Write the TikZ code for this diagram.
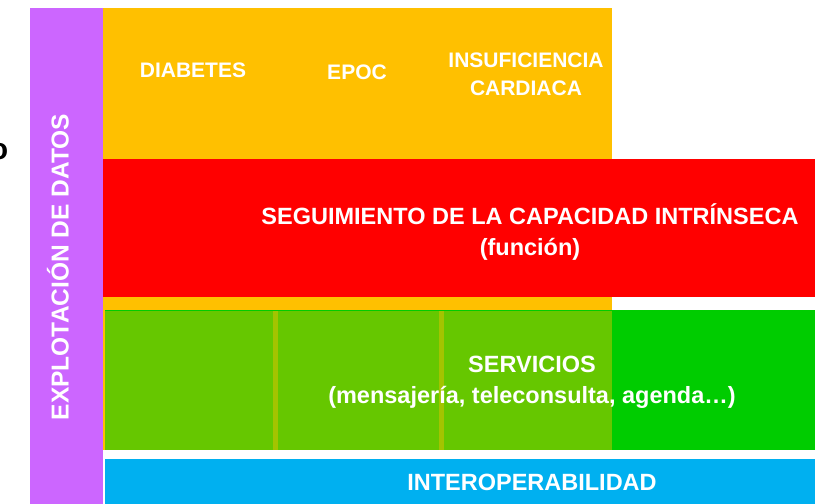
\documentclass[tikz,border=0pt]{standalone}
\usepackage{fontspec}
\setmainfont{Liberation Sans}
\usetikzlibrary{positioning}

\definecolor{cdatos}{HTML}{CC66FF}
\definecolor{cnaranja}{HTML}{FFC000}
\definecolor{crojo}{HTML}{FF0000}
\definecolor{cverde}{HTML}{00CC00}
\definecolor{cazul}{HTML}{00B0F0}

\begin{document}
\begin{tikzpicture}[x=1pt, y=-1pt,
                block/.style = {shape=rectangle, inner sep=0pt, draw=none},
                lbl/.style = {text=white, inner sep=0pt, align=center,
                              font=\bfseries\fontsize{23.5}{31}\selectfont},
                toplbl/.style = {lbl, font=\bfseries\fontsize{21}{28}\selectfont}]
            \useasboundingbox (0,0) rectangle (815,504);

            \node (b_datos) [block, fill=cdatos, minimum width=73, minimum height=498] at (66.5,257) {};
            \node (b_enfermedades) [block, fill=cnaranja, minimum width=509, minimum height=442] at (357.5,229) {};
            \node (b_seguimiento) [block, fill=crojo, minimum width=712, minimum height=138] at (459,228) {};
            \node (b_servicios) [block, fill=cverde, minimum width=710, minimum height=140] at (460,380) {};

            \node (b_col_diabetes) [block, fill=cnaranja, fill opacity=0.4, minimum width=175, minimum height=139] at (190.5,380.5) {};
            \node (b_col_epoc) [block, fill=cnaranja, fill opacity=0.4, minimum width=171, minimum height=139] at (358.5,380.5) {};
            \node (b_col_insuf) [block, fill=cnaranja, fill opacity=0.4, minimum width=173, minimum height=139] at (525.5,380.5) {};

            \node (b_interop) [block, fill=cazul, minimum width=710, minimum height=47] at (460,482.5) {};

            \node (t_datos) [lbl, font=\bfseries\fontsize{24.5}{28}\selectfont, rotate=90] at (58,267) {EXPLOTACIÓN DE DATOS};
            \node (t_diabetes) [toplbl] at (193,70) {DIABETES};
            \node (t_epoc) [toplbl] at (357,72) {EPOC};
            \node (t_insuf) [toplbl] at (526,74) {INSUFICIENCIA\\CARDIACA};
            \node (t_seguimiento) [lbl] at (530,232) {SEGUIMIENTO DE LA CAPACIDAD INTRÍNSECA\\(función)};
            \node (t_servicios) [lbl] at (532,382) {SERVICIOS\\(mensajería, teleconsulta, agenda…)};
            \node (t_interop) [lbl] at (532,482) {INTEROPERABILIDAD};

            \node (t_o) [anchor=east, inner sep=0pt, font=\bfseries\fontsize{30}{30}\selectfont] at (8.5,152) {o};
        \end{tikzpicture}
\end{document}
